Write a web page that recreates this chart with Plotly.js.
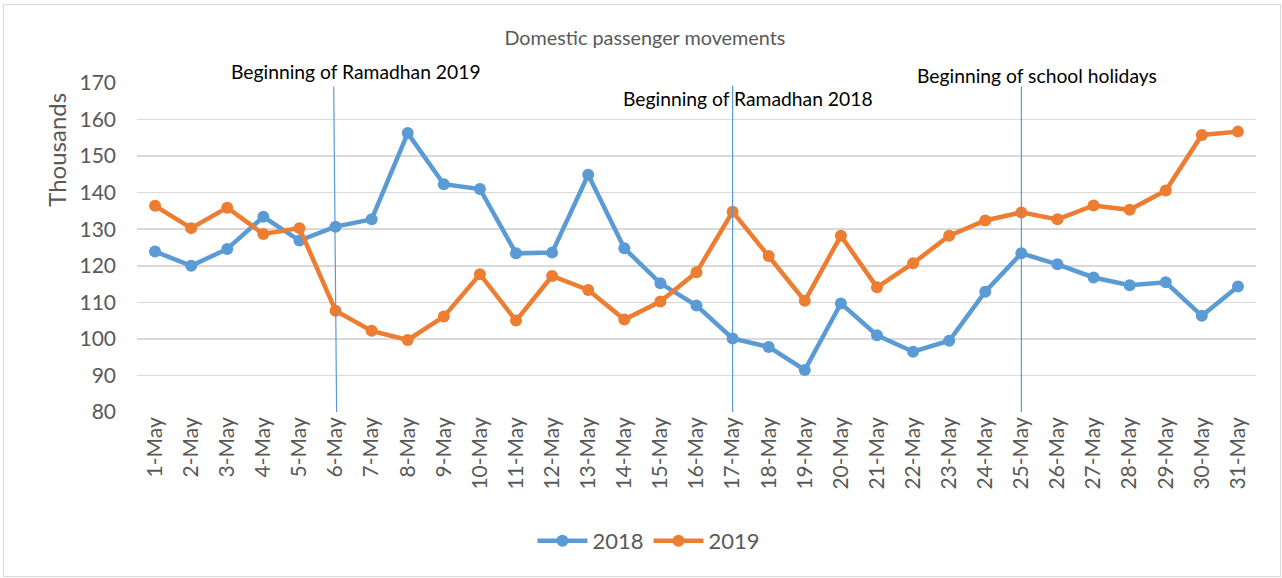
<!DOCTYPE html>
<html>
<head>
<meta charset="utf-8">
<script src="https://cdn.plot.ly/plotly-3.0.1.min.js"></script>
<style>
html,body{margin:0;padding:0;background:#fff;}
#chart{width:1282px;height:578px;position:absolute;left:0;top:0;}
#frame{position:absolute;left:3px;top:4px;width:1276px;height:571px;border:1px solid #d9d9d9;pointer-events:none;}
</style>
</head>
<body>
<div id="chart"></div>
<div id="frame"></div>
<script>
const categories = ["1-May","2-May","3-May","4-May","5-May","6-May","7-May","8-May","9-May","10-May","11-May","12-May","13-May","14-May","15-May","16-May","17-May","18-May","19-May","20-May","21-May","22-May","23-May","24-May","25-May","26-May","27-May","28-May","29-May","30-May","31-May"];
const values2018 = [123.9,120.0,124.6,133.4,126.9,130.7,132.7,156.3,142.3,141.0,123.4,123.6,144.9,124.8,115.2,109.1,100.1,97.8,91.5,109.7,101.0,96.5,99.5,112.9,123.4,120.4,116.8,114.7,115.5,106.3,114.3];
const values2019 = [136.4,130.3,135.9,128.7,130.3,107.7,102.2,99.7,106.1,117.7,105.0,117.2,113.4,105.3,110.2,118.2,134.8,122.7,110.4,128.2,114.1,120.7,128.2,132.4,134.6,132.7,136.5,135.3,140.6,155.8,156.7];
const eventDates = ["6-May","17-May","25-May"];
const eventLabels = ["Beginning of Ramadhan 2019","Beginning of Ramadhan 2018","Beginning of school holidays"];
const yTicks = [80,90,100,110,120,130,140,150,160,170];

const FONT = "Lato, Noto Sans, sans-serif";
const blue = "#5B9BD5", orange = "#ED7D31";

const traces = [
  {x: categories, y: values2018, name: "2018", type: "scatter", mode: "lines+markers",
   line: {color: blue, width: 4.5}, marker: {color: blue, size: 12}},
  {x: categories, y: values2019, name: "2019", type: "scatter", mode: "lines+markers",
   line: {color: orange, width: 4.5}, marker: {color: orange, size: 12}}
];

const idx = d => categories.indexOf(d);
const lineTops = [0.989, 0.992, 0.989];
const shapes = eventDates.map((d,i) => ({
  type: "line", xref: "x", yref: "paper",
  x0: idx(d) + (i === 0 ? 0.03 : 0), x1: idx(d) - (i === 0 ? 0.05 : 0),
  y0: 0, y1: lineTops[i],
  line: {color: blue, width: 1.2}
}));
const annX = [5.56, 16.43, 24.42];
const annY = [1.034, 0.952, 1.022];
const annotations = eventLabels.map((t,i) => ({
  text: t, xref: "x", yref: "paper", x: annX[i], y: annY[i], xanchor: "center", yanchor: "middle",
  showarrow: false, font: {family: FONT, size: 19.3, color: "#000"}
}));
annotations.push({
  text: "Thousands", xref: "paper", yref: "paper", x: -0.0715, y: 0.797, xanchor: "center", yanchor: "middle",
  textangle: -90, showarrow: false, font: {family: FONT, size: 24, color: "#595959"}
});

const layout = {
  width: 1282, height: 578,
  margin: {l: 137, r: 26, t: 83, b: 166},
  paper_bgcolor: "#fff", plot_bgcolor: "#fff",
  title: {text: "Domestic passenger movements", x: 0.503, xanchor: "center", y: 0.934, yanchor: "middle",
          font: {family: FONT, size: 19.8, color: "#595959"}},
  xaxis: {type: "category", range: [-0.5, 30.5], tickangle: -90, showgrid: false, zeroline: false,
          showline: false, ticks: "", tickfont: {family: FONT, size: 21, color: "#595959"}, fixedrange: true},
  yaxis: {range: [80, 170], tickvals: yTicks, showgrid: true, gridcolor: "#d9d9d9", gridwidth: 1.5,
          zeroline: false, showline: false, ticks: "", ticklabelstandoff: 20,
          tickfont: {family: FONT, size: 21, color: "#595959"}},
  showlegend: true,
  legend: {orientation: "h", x: 0.4575, xanchor: "center", y: -0.392, yanchor: "middle",
           font: {family: FONT, size: 22, color: "#595959"}, itemwidth: 50},
  shapes: shapes,
  annotations: annotations
};

Plotly.newPlot("chart", traces, layout, {displayModeBar: false, staticPlot: true});
</script>
</body>
</html>
